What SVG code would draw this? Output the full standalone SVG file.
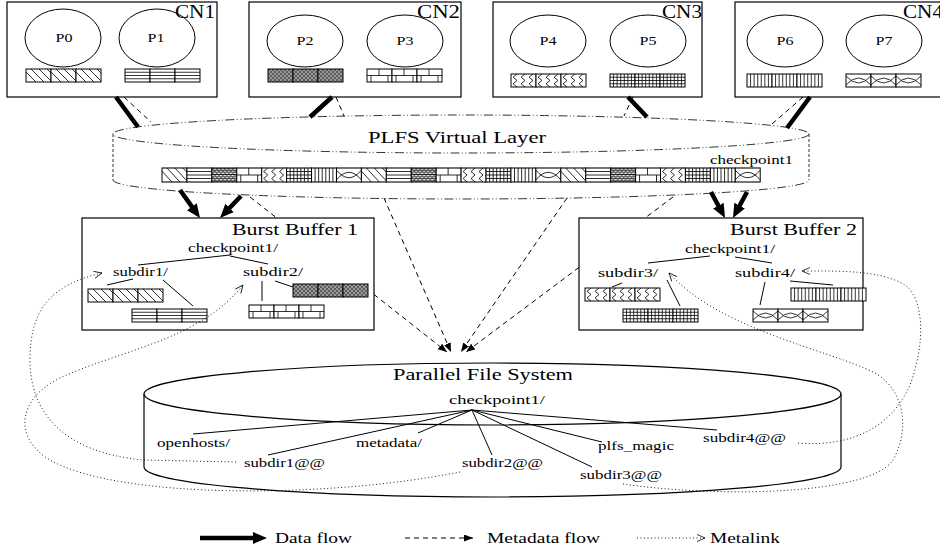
<svg xmlns="http://www.w3.org/2000/svg" width="940" height="550" viewBox="0 0 940 550">
<style>
text{font-family:"Liberation Serif","Times New Roman",serif;fill:#000}
.box{fill:#fff;stroke:#000;stroke-width:1.2}
.proc{fill:none;stroke:#000;stroke-width:1}
.cell{fill:#fff;stroke:#000;stroke-width:1}
.pat{fill:none;stroke:#000;stroke-width:0.8}
.tree{fill:none;stroke:#000;stroke-width:1}
.data{fill:none;stroke:#000;stroke-width:4.5}
.meta{fill:none;stroke:#000;stroke-width:1;stroke-dasharray:5 4}
.link{fill:none;stroke:#000;stroke-width:0.9;stroke-dasharray:1 2.5}
.plfs{fill:none;stroke:#333;stroke-width:1;stroke-dasharray:9 2.5 1 2.5 1 2.5}
.plfsside{fill:none;stroke:#333;stroke-width:1;stroke-dasharray:3 2}
.pfs{fill:none;stroke:#000;stroke-width:1.2}
</style>
<defs>
<marker id="dh" markerUnits="userSpaceOnUse" markerWidth="15" markerHeight="13" refX="4" refY="6" orient="auto"><path d="M0,0 L14,6 L0,12 Z" fill="#000"/></marker>
<marker id="mh" markerUnits="userSpaceOnUse" markerWidth="10" markerHeight="8" refX="9" refY="3.5" orient="auto"><path d="M0,0 L9,3.5 L0,7 Z" fill="#000"/></marker>
<marker id="lh" markerUnits="userSpaceOnUse" markerWidth="10" markerHeight="9" refX="8.5" refY="4" orient="auto"><path d="M0.5,0.5 L8.5,4 L0.5,7.5" fill="none" stroke="#000" stroke-width="0.8"/></marker>
<pattern id="dense" patternUnits="userSpaceOnUse" width="4" height="4"><rect width="4" height="4" fill="#fff"/><path d="M0,2H4 M0,4H4 M1,0V2 M3,2V4 M0,0H4" stroke="#000" stroke-width="0.8"/></pattern>
<g id="c0"><rect class="cell" width="25" height="13"/><path class="pat" d="M0,3 L10,13 M5,0 L18,13 M13,0 L25,12 M21,0 L25,4"/></g>
<g id="c1"><rect class="cell" width="25" height="13"/><path class="pat" d="M0,3.25H25 M0,6.5H25 M0,9.75H25"/></g>
<g id="c2"><rect width="25" height="13" fill="url(#dense)" stroke="#000" stroke-width="1"/></g>
<g id="c3"><rect class="cell" width="25" height="13"/><path class="pat" d="M0,6.5H25 M12,0V6.5 M4,6.5V13 M21,6.5V13"/></g>
<g id="c4"><rect class="cell" width="25" height="13"/><path class="pat" d="M6,0 L2,3.25 L6,6.5 L2,9.75 L6,13 M14,0 L10,3.25 L14,6.5 L10,9.75 L14,13 M22,0 L18,3.25 L22,6.5 L18,9.75 L22,13"/></g>
<g id="c5"><rect class="cell" width="25" height="13"/><path class="pat" d="M3.57,0V13 M7.14,0V13 M10.71,0V13 M14.28,0V13 M17.85,0V13 M21.42,0V13 M0,3.25H25 M0,6.5H25 M0,9.75H25"/></g>
<g id="c6"><rect class="cell" width="25" height="13"/><path class="pat" d="M3.57,0V13 M7.14,0V13 M10.71,0V13 M14.28,0V13 M17.85,0V13 M21.42,0V13"/></g>
<g id="c7"><rect class="cell" width="25" height="13"/><path class="pat" d="M0,2 Q12.5,16 25,2 M0,11 Q12.5,-3 25,11"/></g>
<g id="s0"><use href="#c0"/><use href="#c0" x="25"/><use href="#c0" x="50"/></g>
<g id="s1"><use href="#c1"/><use href="#c1" x="25"/><use href="#c1" x="50"/></g>
<g id="s2"><use href="#c2"/><use href="#c2" x="25"/><use href="#c2" x="50"/></g>
<g id="s3"><use href="#c3"/><use href="#c3" x="25"/><use href="#c3" x="50"/></g>
<g id="s4"><use href="#c4"/><use href="#c4" x="25"/><use href="#c4" x="50"/></g>
<g id="s5"><use href="#c5"/><use href="#c5" x="25"/><use href="#c5" x="50"/></g>
<g id="s6"><use href="#c6"/><use href="#c6" x="25"/><use href="#c6" x="50"/></g>
<g id="s7"><use href="#c7"/><use href="#c7" x="25"/><use href="#c7" x="50"/></g>
</defs>

<!-- Compute nodes -->
<g id="cn1">
<rect class="box" x="7" y="2" width="210" height="95"/>
<text x="175" y="17.5" font-size="19" textLength="40" lengthAdjust="spacingAndGlyphs">CN1</text>
<ellipse class="proc" cx="63" cy="38" rx="38" ry="29"/>
<ellipse class="proc" cx="157" cy="38" rx="38" ry="29"/>
<text x="64" y="42" font-size="12" text-anchor="middle" textLength="17" lengthAdjust="spacingAndGlyphs">P0</text>
<text x="156" y="42" font-size="12" text-anchor="middle" textLength="17" lengthAdjust="spacingAndGlyphs">P1</text>
<use href="#s0" x="26" y="69"/>
<use href="#s1" x="125" y="69"/>
</g>
<g id="cn2">
<rect class="box" x="249" y="2" width="212" height="95"/>
<text x="417" y="17.5" font-size="19" textLength="43" lengthAdjust="spacingAndGlyphs">CN2</text>
<ellipse class="proc" cx="305" cy="41" rx="38" ry="26"/>
<ellipse class="proc" cx="405" cy="41" rx="38" ry="26"/>
<text x="305" y="45" font-size="12" text-anchor="middle" textLength="17" lengthAdjust="spacingAndGlyphs">P2</text>
<text x="405" y="45" font-size="12" text-anchor="middle" textLength="17" lengthAdjust="spacingAndGlyphs">P3</text>
<use href="#s2" x="268" y="69"/>
<use href="#s3" x="367" y="69"/>
</g>
<g id="cn3">
<rect class="box" x="493" y="2" width="209" height="95"/>
<text x="662" y="17.5" font-size="19" textLength="40" lengthAdjust="spacingAndGlyphs">CN3</text>
<ellipse class="proc" cx="548" cy="41" rx="38" ry="26"/>
<ellipse class="proc" cx="648" cy="41" rx="38" ry="26"/>
<text x="548" y="45" font-size="12" text-anchor="middle" textLength="17" lengthAdjust="spacingAndGlyphs">P4</text>
<text x="648" y="45" font-size="12" text-anchor="middle" textLength="17" lengthAdjust="spacingAndGlyphs">P5</text>
<use href="#s4" x="511" y="74"/>
<use href="#s5" x="610" y="74"/>
</g>
<g id="cn4">
<rect class="box" x="735" y="2" width="220" height="95"/>
<text x="903" y="17.5" font-size="19" textLength="40" lengthAdjust="spacingAndGlyphs">CN4</text>
<ellipse class="proc" cx="785" cy="41" rx="38" ry="26"/>
<ellipse class="proc" cx="884" cy="41" rx="38" ry="26"/>
<text x="785" y="45" font-size="12" text-anchor="middle" textLength="17" lengthAdjust="spacingAndGlyphs">P6</text>
<text x="884" y="45" font-size="12" text-anchor="middle" textLength="17" lengthAdjust="spacingAndGlyphs">P7</text>
<use href="#s6" x="747" y="74"/>
<use href="#s7" x="846" y="74"/>
</g>

<!-- PLFS virtual layer -->
<g id="plfs">
<ellipse class="plfs" cx="461" cy="134" rx="348" ry="19"/>
<path class="plfsside" d="M113,134 V180 M809,134 V180"/>
<path class="plfs" d="M113,180 A348,19 0 0 0 809,180"/>
<text x="368" y="143" font-size="16" textLength="178" lengthAdjust="spacingAndGlyphs">PLFS Virtual Layer</text>
<text x="710" y="164" font-size="12" textLength="83" lengthAdjust="spacingAndGlyphs">checkpoint1</text>
<g transform="translate(162,168) scale(0.997,1.077)">
<use href="#c0" x="0"/><use href="#c1" x="25"/><use href="#c2" x="50"/><use href="#c3" x="75"/><use href="#c4" x="100"/><use href="#c5" x="125"/><use href="#c6" x="150"/><use href="#c7" x="175"/>
<use href="#c0" x="200"/><use href="#c1" x="225"/><use href="#c2" x="250"/><use href="#c3" x="275"/><use href="#c4" x="300"/><use href="#c5" x="325"/><use href="#c6" x="350"/><use href="#c7" x="375"/>
<use href="#c0" x="400"/><use href="#c1" x="425"/><use href="#c2" x="450"/><use href="#c3" x="475"/><use href="#c4" x="500"/><use href="#c5" x="525"/><use href="#c6" x="550"/><use href="#c7" x="575"/>
</g>
</g>

<!-- Burst Buffer 1 -->
<g id="bb1">
<rect class="box" x="82" y="218" width="292" height="112"/>
<text x="232" y="235" font-size="17" textLength="126" lengthAdjust="spacingAndGlyphs">Burst Buffer 1</text>
<text x="188" y="252" font-size="13" textLength="90" lengthAdjust="spacingAndGlyphs">checkpoint1/</text>
<text x="113" y="276" font-size="13" textLength="55" lengthAdjust="spacingAndGlyphs">subdir1/</text>
<text x="243" y="276" font-size="13" textLength="60" lengthAdjust="spacingAndGlyphs">subdir2/</text>
<path class="tree" d="M230,255 L138,265 M230,256 L268,264 M133,279 L107,285 M163,280 L193,306 M262,281 V301 M275,281 L293,287"/>
<use href="#s0" x="88" y="289"/>
<use href="#s1" x="132" y="309"/>
<use href="#s2" x="293" y="284"/>
<use href="#s3" x="249" y="305"/>
</g>

<!-- Burst Buffer 2 -->
<g id="bb2">
<rect class="box" x="579" y="218" width="284" height="112"/>
<text x="730" y="235" font-size="17" textLength="127" lengthAdjust="spacingAndGlyphs">Burst Buffer 2</text>
<text x="685" y="253" font-size="13" textLength="90" lengthAdjust="spacingAndGlyphs">checkpoint1/</text>
<text x="598" y="277" font-size="13" textLength="60" lengthAdjust="spacingAndGlyphs">subdir3/</text>
<text x="735" y="277" font-size="13" textLength="60" lengthAdjust="spacingAndGlyphs">subdir4/</text>
<path class="tree" d="M710,256 L648,263 M735,257 L772,263 M622,283 L612,287 M667,280 L680,306 M765,282 L760,305 M790,281 L833,285"/>
<use href="#s4" x="585" y="288"/>
<use href="#s5" x="623" y="309"/>
<use href="#s6" x="791" y="288"/>
<use href="#s7" x="753" y="309"/>
</g>

<!-- Parallel File System -->
<g id="pfs">
<ellipse class="pfs" cx="492.5" cy="394" rx="348.5" ry="31" fill="none"/>
<path class="pfs" d="M144,394 V467 M841,394 V467 M144,467 A348.5,30 0 0 0 841,467"/>
<text x="393" y="380" font-size="16" textLength="180" lengthAdjust="spacingAndGlyphs">Parallel File System</text>
<text x="449" y="404" font-size="13" textLength="96" lengthAdjust="spacingAndGlyphs">checkpoint1/</text>
<path class="tree" d="M472,410 L193,434 M472,410 L418,433 M472,410 L268,455 M472,410 L492,455 M472,410 L592,467 M472,410 L602,442 M472,410 L717,430"/>
<text x="157" y="447" font-size="13" textLength="73" lengthAdjust="spacingAndGlyphs">openhosts/</text>
<text x="356" y="447" font-size="13" textLength="66" lengthAdjust="spacingAndGlyphs">metadata/</text>
<text x="244" y="467" font-size="13" textLength="81" lengthAdjust="spacingAndGlyphs">subdir1@@</text>
<text x="462" y="467" font-size="13" textLength="81" lengthAdjust="spacingAndGlyphs">subdir2@@</text>
<text x="598" y="450" font-size="13" textLength="76" lengthAdjust="spacingAndGlyphs">plfs_magic</text>
<text x="580" y="479" font-size="13" textLength="82" lengthAdjust="spacingAndGlyphs">subdir3@@</text>
<text x="703" y="442" font-size="13" textLength="83" lengthAdjust="spacingAndGlyphs">subdir4@@</text>
</g>

<!-- Connectors -->
<g id="connectors">
<path class="data" d="M116,97 L138,127 M332,97 L310,117 M628,97 L647,117 M810,97 L787,128"/>
<path class="meta" d="M124,97 L151,122 M336,97 L344,116 M633,97 L624,116 M803,97 L772,124"/>
<path class="data" d="M180,190 L194.2,209.9" marker-end="url(#dh)"/>
<path class="data" d="M241,196 L226.9,210.8" marker-end="url(#dh)"/>
<path class="data" d="M711,192 L720.3,209.2" marker-end="url(#dh)"/>
<path class="data" d="M747,192 L737.7,209.2" marker-end="url(#dh)"/>
<path class="meta" d="M250,197 L276.7,218"/>
<path class="meta" d="M374,294.5 L447,352" marker-end="url(#mh)"/>
<path class="meta" d="M384,198 L451,352" marker-end="url(#mh)"/>
<path class="meta" d="M567,198 L461,352" marker-end="url(#mh)"/>
<path class="meta" d="M673,197 L645,218"/>
<path class="meta" d="M579,267.4 L466,352" marker-end="url(#mh)"/>
<path class="link" d="M236,462 L143,460 C60,452 30,410 30,360 C30,310 50,285 102,273" marker-end="url(#lh)"/>
<path class="link" d="M460,472 C330,498 120,500 50,460 C15,440 15,400 60,378 C120,350 200,340 243,285" marker-end="url(#lh)"/>
<path class="link" d="M623,484 C720,498 870,495 893,460 C910,430 905,390 875,373 C830,350 720,330 669,273" marker-end="url(#lh)"/>
<path class="link" d="M798,443 C860,448 895,420 910,385 C925,345 925,300 905,285 C880,270 840,271 802,271" marker-end="url(#lh)"/>
</g>

<!-- Legend -->
<g id="legend">
<path class="data" d="M200,538 L257,538" marker-end="url(#dh)"/>
<text x="275" y="543" font-size="14" textLength="77" lengthAdjust="spacingAndGlyphs">Data flow</text>
<path class="meta" d="M405,538 L473,538" marker-end="url(#mh)"/>
<text x="487" y="543" font-size="14" textLength="113" lengthAdjust="spacingAndGlyphs">Metadata flow</text>
<path class="link" d="M637,538 L705,538" marker-end="url(#lh)"/>
<text x="710" y="543" font-size="14" textLength="70" lengthAdjust="spacingAndGlyphs">Metalink</text>
</g>
</svg>
